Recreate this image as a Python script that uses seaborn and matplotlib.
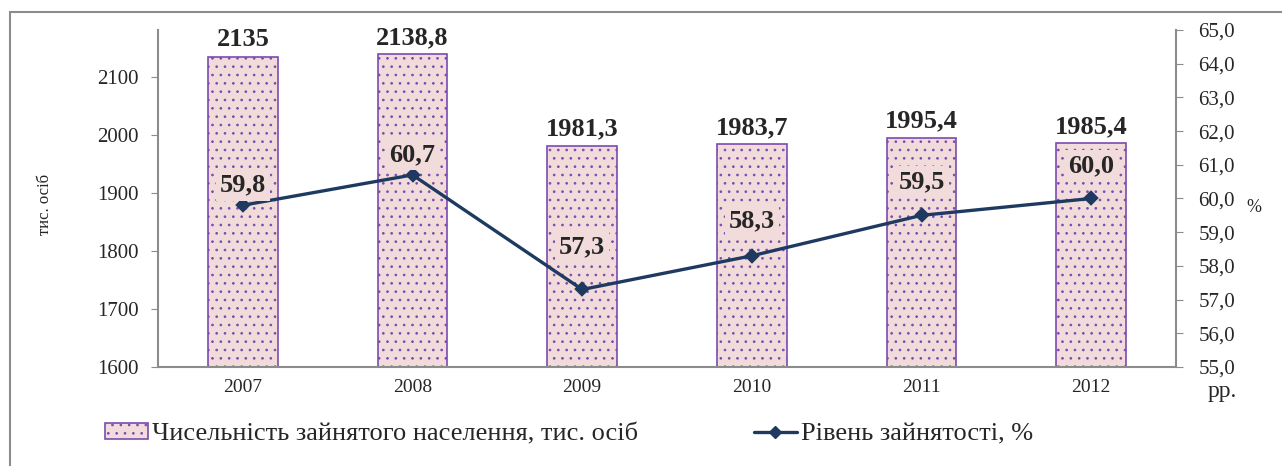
import matplotlib
matplotlib.use("Agg")
import matplotlib.pyplot as plt
import seaborn as sns
import pandas as pd
from matplotlib.patches import Patch, Rectangle
from matplotlib.lines import Line2D
from matplotlib.ticker import FuncFormatter

# data
years = ["2007", "2008", "2009", "2010", "2011", "2012"]
employed = [2135, 2138.8, 1981.3, 1983.7, 1995.4, 1985.4]
rate = [59.8, 60.7, 57.3, 58.3, 59.5, 60.0]
bar_name = "Чисельність зайнятого населення, тис. осіб"
line_name = "Рівень зайнятості, %"

df = pd.DataFrame({"year": years, "employed": employed, "rate": rate})

sns.set_style("white")
plt.rcParams['font.family'] = ['Liberation Serif', 'DejaVu Serif']
plt.rcParams['hatch.linewidth'] = 0.7

bar_face = "#F2DCDB"
bar_edge = "#7A4BB0"
line_col = "#1F3A60"
grey = "#8C8C8C"

fig = plt.figure(figsize=(12.82, 4.66), dpi=100)
ax = fig.add_axes([158/1282, 1-367/466, (1176-158)/1282, (367-30)/466])

sns.barplot(data=df, x="year", y="employed", ax=ax, color=bar_face,
            width=0.41, edgecolor=bar_edge, linewidth=1.2, hatch="..",
            saturation=1)
ax.set_ylim(1600, 2181)
ax.set_yticks([1600, 1700, 1800, 1900, 2000, 2100])
ax.set_xlabel("")
ax.set_ylabel("")
ax.tick_params(axis="y", direction="out", length=5, color=grey, labelsize=15, pad=9, left=True)
ax.tick_params(axis="x", length=0, labelsize=14, pad=9)
for s in ["top", "right"]:
    ax.spines[s].set_visible(False)
for s in ["left", "bottom"]:
    ax.spines[s].set_color(grey)
    ax.spines[s].set_linewidth(1.5)

labels = [f"{v:g}".replace(".", ",") for v in employed]
ax.bar_label(ax.containers[0], labels=labels, padding=4, fontsize=19, fontweight="bold")

ax2 = ax.twinx()
sns.pointplot(data=df, x="year", y="rate", ax=ax2, color=line_col,
              markers="D", markersize=6, linewidth=2.4)
ax2.set_ylim(55, 65)
ax2.set_yticks(range(55, 66))
ax2.yaxis.set_major_formatter(FuncFormatter(lambda v, p: f"{v:.1f}".replace(".", ",")))
ax2.set_ylabel("")
ax2.set_xlabel("")
ax2.tick_params(axis="y", direction="out", length=5, color=grey, labelsize=15, pad=11, right=True)
for s in ["top", "left", "bottom"]:
    ax2.spines[s].set_visible(False)
ax2.spines["right"].set_color(grey)
ax2.spines["right"].set_linewidth(1.5)

offsets = [20, 20, 43, 35, 34, 33]
for i, (v, off) in enumerate(zip(rate, offsets)):
    ax2.annotate(f"{v:.1f}".replace(".", ","), (i, v), xytext=(0, off * 0.72),
                 textcoords="offset points", ha="center", va="center",
                 fontsize=19, fontweight="bold",
                 bbox=dict(boxstyle="square,pad=0.15", facecolor=bar_face, edgecolor="none"))

fig.text(1254/1282, 1-208/466, "%", fontsize=13, ha="center", va="center")
fig.text(1222/1282, 1-392/466, "рр.", fontsize=17, ha="center", va="center")
fig.text(45/1282, 1-204/466, "тис. осіб", fontsize=12, rotation=90, ha="center", va="center")

handles = [Patch(facecolor=bar_face, edgecolor=bar_edge, hatch="..", linewidth=1.2),
           Line2D([0], [0], color=line_col, lw=2.4, marker="D", markersize=6)]
fig.legend(handles, [bar_name, line_name], loc="center left", bbox_to_anchor=(81/1282, 1-434/466),
           ncol=2, frameon=False, fontsize=19, handlelength=1.63, handleheight=0.55,
           handletextpad=0.15, columnspacing=4.4)

fig.patches.append(Rectangle((10/1282, -0.1), 1.2, 1.1 - 12/466, transform=fig.transFigure,
                             fill=False, edgecolor=grey, linewidth=1.5))

fig.savefig("out.png", dpi=100)
